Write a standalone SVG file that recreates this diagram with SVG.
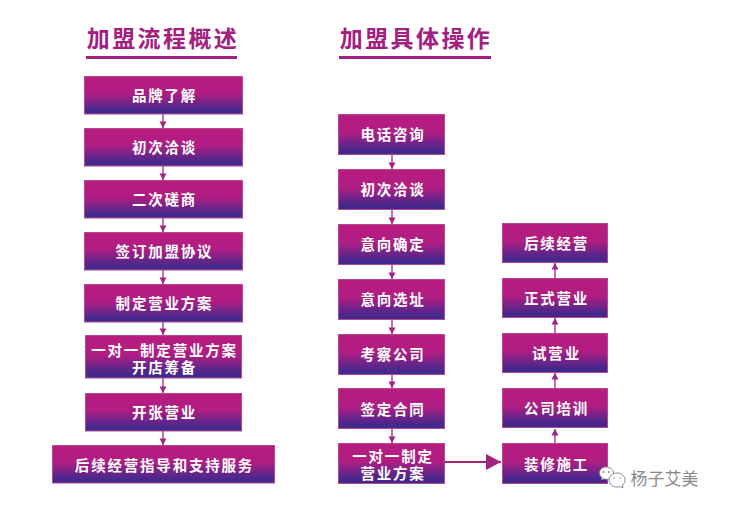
<svg xmlns="http://www.w3.org/2000/svg" width="750" height="520" viewBox="0 0 750 520">
<defs>
<linearGradient id="g" x1="0" y1="0" x2="0" y2="1"><stop offset="0" stop-color="#b81c7f"/><stop offset="0.45" stop-color="#b01d83"/><stop offset="0.9" stop-color="#45288c"/><stop offset="1" stop-color="#45288c"/></linearGradient>
<marker id="a" markerWidth="9" markerHeight="9" refX="7" refY="4.500" orient="auto" markerUnits="userSpaceOnUse"><path d="M0.500 1L7 4.500L0.500 8Z" fill="#a3247f"/></marker>
<marker id="b" markerWidth="16" markerHeight="16" refX="15" refY="8" orient="auto" markerUnits="userSpaceOnUse"><path d="M0 0L15 8L0 16Z" fill="#a3247f"/></marker>
</defs>
<style>
text{font-family:"Noto Sans CJK SC","Liberation Sans",sans-serif;font-weight:700;text-anchor:middle}
.box{fill:url(#g);stroke:#b5488f;stroke-width:1}
.t{font-size:14.500px;fill:#fff;letter-spacing:1.800px}
.h{font-size:23px;fill:#a3207f;letter-spacing:2.400px}
.u{fill:#a3207f}
.c{stroke:#a3247f;stroke-width:1.300;fill:none;marker-end:url(#a)}
</style>
<rect width="750" height="520" fill="#fff"/>
<g id="title-left"><text class="h" x="163" y="47">加盟流程概述</text><rect class="u" x="86" y="56" width="151" height="3"/></g>
<g id="title-right"><text class="h" x="416" y="47">加盟具体操作</text><rect class="u" x="339" y="56" width="152" height="3"/></g>
<g id="connectors">
<path class="c" d="M163 114V128"/><path class="c" d="M163 166V180"/><path class="c" d="M163 218V232"/><path class="c" d="M163 270V284"/><path class="c" d="M163 322V335"/><path class="c" d="M163 378V393"/><path class="c" d="M163 431V445"/>
<path class="c" d="M392 155V169"/><path class="c" d="M392 210V224"/><path class="c" d="M392 265V279"/><path class="c" d="M392 320V334"/><path class="c" d="M392 375V388"/><path class="c" d="M392 429V443"/>
<path class="c" d="M555 443V429"/><path class="c" d="M555 388V373"/><path class="c" d="M555 333V318"/><path class="c" d="M555 278V263"/>
<path d="M445 462H501" stroke="#a3247f" stroke-width="2" fill="none" marker-end="url(#b)"/>
</g>
<g id="l1"><rect class="box" x="84.500" y="76.500" width="158" height="37.500"/><text class="t" x="164.500" y="101">品牌了解</text></g>
<g id="l2"><rect class="box" x="84.500" y="128.500" width="158" height="37.500"/><text class="t" x="164.500" y="153">初次洽谈</text></g>
<g id="l3"><rect class="box" x="84.500" y="180.500" width="158" height="37.500"/><text class="t" x="164.500" y="205">二次磋商</text></g>
<g id="l4"><rect class="box" x="84.500" y="232.500" width="158" height="37.500"/><text class="t" x="164.500" y="257">签订加盟协议</text></g>
<g id="l5"><rect class="box" x="84.500" y="284.500" width="158" height="37.500"/><text class="t" x="164.500" y="309">制定营业方案</text></g>
<g id="l6"><rect class="box" x="85.500" y="335.500" width="156" height="42.500"/><text class="t"><tspan x="164.500" y="356">一对一制定营业方案</tspan><tspan x="164.500" y="372.500">开店筹备</tspan></text></g>
<g id="l7"><rect class="box" x="85.500" y="393.500" width="156" height="37.500"/><text class="t" x="164.500" y="418">开张营业</text></g>
<g id="l8"><rect class="box" x="52.500" y="445.500" width="222" height="37.500"/><text class="t" x="164.500" y="471">后续经营指导和支持服务</text></g>
<g id="m1"><rect class="box" x="338.500" y="114.500" width="106" height="40"/><text class="t" x="393" y="140">电话咨询</text></g>
<g id="m2"><rect class="box" x="338.500" y="169.500" width="106" height="40"/><text class="t" x="393" y="195">初次洽谈</text></g>
<g id="m3"><rect class="box" x="338.500" y="224.500" width="106" height="40"/><text class="t" x="393" y="250">意向确定</text></g>
<g id="m4"><rect class="box" x="338.500" y="279.500" width="106" height="40"/><text class="t" x="393" y="305">意向选址</text></g>
<g id="m5"><rect class="box" x="338.500" y="334.500" width="106" height="40"/><text class="t" x="393" y="360">考察公司</text></g>
<g id="m6"><rect class="box" x="338.500" y="388.500" width="106" height="40"/><text class="t" x="393" y="415">签定合同</text></g>
<g id="m7"><rect class="box" x="338.500" y="443.500" width="106" height="40"/><text class="t"><tspan x="393" y="462">一对一制定</tspan><tspan x="393" y="478.500">营业方案</tspan></text></g>
<g id="r1"><rect class="box" x="502.500" y="223.500" width="105" height="39"/><text class="t" x="556.500" y="249">后续经营</text></g>
<g id="r2"><rect class="box" x="502.500" y="278.500" width="105" height="39"/><text class="t" x="556.500" y="304">正式营业</text></g>
<g id="r3"><rect class="box" x="502.500" y="333.500" width="105" height="39"/><text class="t" x="556.500" y="359">试营业</text></g>
<g id="r4"><rect class="box" x="502.500" y="388.500" width="105" height="39"/><text class="t" x="556.500" y="414">公司培训</text></g>
<g id="r5"><rect class="box" x="502.500" y="443.500" width="105" height="40"/><text class="t" x="556.500" y="470">装修施工</text></g>
<g id="watermark">
<path d="M606 467C602 467 599.500 470 599.500 473C599.500 475 600.500 476.500 602 477.500L601.500 480L604 478.800C605 479.200 606 479.300 607 479.200C610 480 613.500 476 613.500 473C613.500 470 610 467 606 467Z" fill="#fff" stroke="#888" stroke-width="1"/>
<path d="M617 473C612.500 473 609 476 609 480C609 484 612.500 487 617 487C618 487 619 486.900 620 486.500L623 488L622.500 485C624 483.800 625 482 625 480C625 476 621.500 473 617 473Z" fill="#fff" stroke="#888" stroke-width="1"/>
<circle cx="603.500" cy="472" r="1" fill="#888"/><circle cx="609" cy="472" r="1" fill="#888"/><circle cx="614" cy="478" r=".8" fill="#888"/><circle cx="620" cy="478" r=".8" fill="#888"/>
<text x="664.500" y="485" font-size="17" style="font-weight:400;fill:#8a8a8a">杨子艾美</text>
</g>
</svg>
